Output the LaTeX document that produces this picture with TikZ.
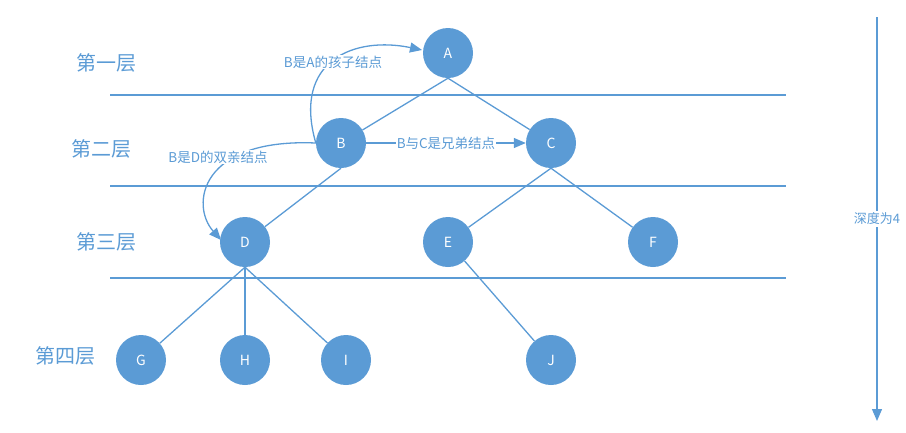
\documentclass[tikz,border=0pt]{standalone}
\usepackage{fontspec}
\setmainfont{Noto Sans CJK SC}
\usetikzlibrary{arrows.meta}
\definecolor{ob}{HTML}{5B9BD5}
\begin{document}
\begin{tikzpicture}[x=1pt,y=-1pt,
  tn/.style={circle,fill=ob,minimum size=50pt,inner sep=0pt,text=white,font=\fontsize{14}{16}\selectfont},
  ln/.style={draw=ob,line width=1.3pt},
  layer/.style={text=ob,font=\fontsize{20}{23}\selectfont},
  note/.style={text=ob,fill=white,inner sep=1pt,font=\fontsize{13.5}{15}\selectfont},
  arr/.style={draw=ob,line width=1.3pt,-{Triangle[length=12pt,width=10pt]}}]
\useasboundingbox (0,0) rectangle (906,432);
% layer separators
\coordinate (l1a) at (110,95); \coordinate (l1b) at (786,95);
\coordinate (l2a) at (110,186); \coordinate (l2b) at (786,186);
\coordinate (l3a) at (110,278); \coordinate (l3b) at (786,278);
\draw[ln] (l1a) -- (l1b);
\draw[ln] (l2a) -- (l2b);
\draw[ln] (l3a) -- (l3b);
% layer labels
\node[layer] (t1) at (106,63) {第一层};
\node[layer] (t2) at (101,149) {第二层};
\node[layer] (t3) at (106,242) {第三层};
\node[layer] (t4) at (65,356) {第四层};
% tree nodes
\node[tn] (A) at (448,53) {A};
\node[tn] (B) at (341,143) {B};
\node[tn] (C) at (551,143) {C};
\node[tn] (D) at (245,242) {D};
\node[tn] (E) at (448,242) {E};
\node[tn] (F) at (653,242) {F};
\node[tn] (G) at (141,360) {G};
\node[tn] (H) at (245,360) {H};
\node[tn] (I) at (346,360) {I};
\node[tn] (J) at (551,360) {J};
% edges
\draw[ln] (A.south) -- (B);
\draw[ln] (A.south) -- (C);
\draw[ln] (B.south) -- (D);
\draw[ln] (C.south) -- (E);
\draw[ln] (C.south) -- (F);
\draw[ln] (D.south) -- (G);
\draw[ln] (D.south) -- (H);
\draw[ln] (D.south) -- (I);
\draw[ln] (E) -- (J);
% annotations
\coordinate (Aw) at (422,50);
\coordinate (Dw) at (221,240);
\draw[arr] (B.west) .. controls (292,60) and (355,36) .. (Aw);
\node[note] (n1) at (333,62) {B是A的孩子结点};
\draw[arr] (B.west) .. controls (200,138) and (190,205) .. (Dw);
\node[note] (n2) at (218,157) {B是D的双亲结点};
\draw[arr] (B.east) -- (C.west) node[note,midway] (n3) {B与C是兄弟结点};
% depth arrow
\coordinate (d0) at (877,17);
\coordinate (d1) at (877,421);
\draw[arr] (d0) -- (d1) node[note,pos=0.5,inner sep=2pt,font=\fontsize{13}{15}\selectfont] (n4) {深度为4};
\end{tikzpicture}
\end{document}
